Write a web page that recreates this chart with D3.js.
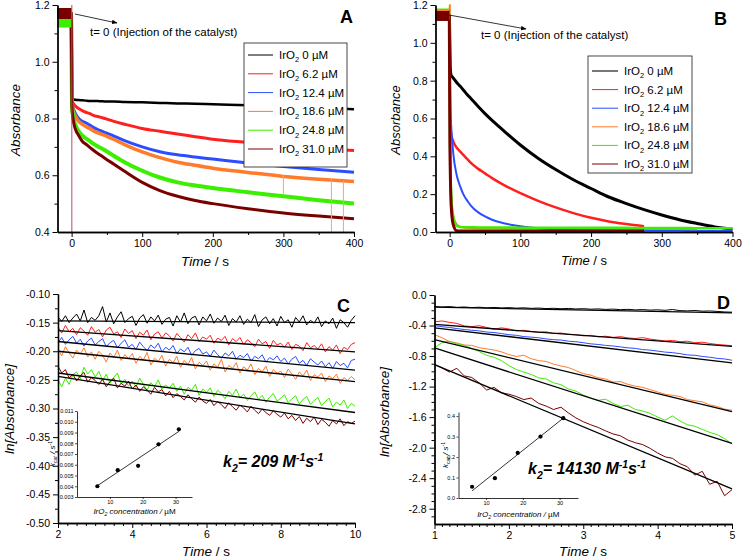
<!DOCTYPE html>
<html>
<head>
<meta charset="utf-8">
<script src="https://cdn.jsdelivr.net/npm/d3@7"></script>
<style>
body { margin: 0; background: #fff; }
</style>
</head>
<body>
<svg id="fig" width="742" height="558"></svg>
<script>
// series (IrO2 concentration, uM) and colours
var concLabels = ["0", "6.2", "12.4", "18.6", "24.8", "31.0"];
var colors = ["#000000", "#ff1f1f", "#2b4dff", "#ff7b2b", "#3cee00", "#7a0000"];

// ---- panel A : absorbance vs time (slow)
var timeA = [-20, -0.5, 0.5, 2, 5, 10, 15, 20, 25, 30, 40, 50, 60, 75, 100, 125, 150, 175, 200, 250, 300, 350, 400];
var aBlack  = [1.17, 1.17, 0.87, 0.868, 0.866, 0.865, 0.864, 0.863, 0.862, 0.862, 0.861, 0.86, 0.86, 0.858, 0.857, 0.855, 0.853, 0.852, 0.85, 0.847, 0.843, 0.838, 0.833];
var aRed    = [1.17, 1.17, 0.87, 0.855, 0.845, 0.835, 0.828, 0.822, 0.818, 0.812, 0.805, 0.798, 0.79, 0.78, 0.765, 0.755, 0.745, 0.736, 0.727, 0.715, 0.703, 0.695, 0.687];
var aBlue   = [1.17, 1.17, 0.86, 0.84, 0.82, 0.80, 0.79, 0.785, 0.778, 0.77, 0.758, 0.748, 0.738, 0.722, 0.70, 0.683, 0.672, 0.664, 0.657, 0.643, 0.631, 0.62, 0.611];
var aOrange = [1.17, 1.17, 0.86, 0.83, 0.81, 0.79, 0.78, 0.772, 0.766, 0.758, 0.747, 0.737, 0.726, 0.708, 0.682, 0.662, 0.646, 0.635, 0.625, 0.61, 0.596, 0.586, 0.578];
var aGreen  = [1.14, 1.14, 0.85, 0.81, 0.78, 0.755, 0.74, 0.73, 0.722, 0.712, 0.698, 0.684, 0.668, 0.646, 0.616, 0.592, 0.575, 0.564, 0.555, 0.54, 0.526, 0.512, 0.50];
var aMaroon = [1.17, 1.17, 0.84, 0.80, 0.765, 0.74, 0.72, 0.71, 0.70, 0.69, 0.672, 0.655, 0.639, 0.614, 0.575, 0.546, 0.526, 0.511, 0.50, 0.482, 0.467, 0.456, 0.447];
var spikeTA = [0.3, 300, 368, 385];
var spikeTopA = [1.2, 0.60, 0.585, 0.58];
var spikeBotA = [0.4, 0.535, 0.4, 0.4];

// ---- panel B : absorbance vs time (fast)
var timeB = [-20, -0.5, 0.3, 1, 2, 5, 10, 15, 20, 25, 30, 40, 50, 60, 75, 100, 125, 150, 175, 200, 225, 250, 275, 300, 325, 350, 375, 400];
var bBlack  = [1.147, 1.147, 1.0, 0.86, 0.83, 0.815, 0.79, 0.77, 0.748, 0.726, 0.706, 0.665, 0.626, 0.59, 0.54, 0.46, 0.39, 0.33, 0.276, 0.23, 0.185, 0.15, 0.118, 0.09, 0.065, 0.045, 0.027, 0.015];
var bRed    = [1.147, 1.147, 0.72, 0.58, 0.52, 0.48, 0.445, 0.425, 0.405, 0.385, 0.365, 0.335, 0.31, 0.285, 0.252, 0.205, 0.165, 0.13, 0.10, 0.075, 0.056, 0.042, 0.03, null, null, null, null, null];
var bBlue   = [1.147, 1.147, 0.9, 0.65, 0.57, 0.42, 0.30, 0.24, 0.195, 0.165, 0.14, 0.105, 0.082, 0.065, 0.048, 0.03, 0.02, 0.015, 0.012, 0.01, 0.009, 0.008, 0.007, 0.006, 0.006, 0.005, 0.005, 0.005];
var bOrange = [1.147, 1.147, 1.2, 0.3, 0.2, 0.09, 0.04, 0.028, 0.024, 0.022, 0.021, 0.02, 0.02, 0.02, 0.019, 0.019, 0.018, 0.018, 0.018, 0.017, 0.017, 0.017, 0.016, 0.016, 0.016, 0.015, null, null];
var bGreen  = [1.155, 1.155, 0.6, 0.35, 0.22, 0.08, 0.032, 0.026, 0.025, 0.025, 0.025, 0.024, 0.024, 0.024, 0.024, 0.023, 0.023, 0.023, 0.022, 0.022, 0.022, 0.022, 0.021, 0.021, 0.021, 0.02, 0.02, 0.02];
var bMaroon = [1.142, 1.142, 0.5, 0.3, 0.15, 0.04, 0.006, 0.005, 0.005, 0.005, 0.005, 0.005, 0.005, 0.005, 0.005, 0.005, 0.005, 0.005, 0.005, 0.005, 0.005, 0.005, 0.005, null, null, null, null, null];

// ---- panel C : ln[Absorbance], 2-10 s, sampled every 0.1 s
var tC = d3.range(81).map(i => 2 + i * 0.1);
var cBlack = [-0.140, -0.148, -0.138, -0.150, -0.142, -0.135, -0.147, -0.128, -0.150, -0.141,
  -0.146, -0.138, -0.122, -0.149, -0.133, -0.152, -0.140, -0.131, -0.150, -0.143,
  -0.139, -0.155, -0.142, -0.136, -0.151, -0.140, -0.147, -0.137, -0.153, -0.144,
  -0.141, -0.156, -0.138, -0.149, -0.133, -0.152, -0.142, -0.139, -0.154, -0.140,
  -0.147, -0.135, -0.151, -0.142, -0.148, -0.137, -0.155, -0.143, -0.149, -0.138,
  -0.153, -0.144, -0.150, -0.136, -0.157, -0.145, -0.140, -0.152, -0.143, -0.156,
  -0.139, -0.150, -0.145, -0.158, -0.141, -0.149, -0.138, -0.154, -0.146, -0.151,
  -0.140, -0.157, -0.147, -0.152, -0.142, -0.160, -0.145, -0.150, -0.158, -0.146, -0.138];
var cRed = [-0.158, -0.168, -0.155, -0.166, -0.160, -0.171, -0.159, -0.165, -0.172, -0.157,
  -0.167, -0.162, -0.175, -0.163, -0.158, -0.170, -0.166, -0.176, -0.161, -0.169,
  -0.164, -0.178, -0.167, -0.172, -0.163, -0.180, -0.170, -0.166, -0.177, -0.168,
  -0.173, -0.182, -0.169, -0.176, -0.184, -0.171, -0.178, -0.168, -0.183, -0.175,
  -0.179, -0.172, -0.186, -0.177, -0.181, -0.174, -0.189, -0.178, -0.183, -0.176,
  -0.188, -0.180, -0.185, -0.192, -0.179, -0.187, -0.183, -0.195, -0.181, -0.189,
  -0.186, -0.193, -0.184, -0.197, -0.188, -0.191, -0.199, -0.185, -0.194, -0.190,
  -0.196, -0.187, -0.201, -0.192, -0.198, -0.189, -0.204, -0.193, -0.197, -0.188, -0.185];
var cBlue = [-0.185, -0.176, -0.188, -0.180, -0.174, -0.186, -0.179, -0.191, -0.182, -0.177,
  -0.189, -0.183, -0.178, -0.192, -0.185, -0.181, -0.194, -0.186, -0.180, -0.193,
  -0.188, -0.197, -0.184, -0.192, -0.199, -0.189, -0.195, -0.186, -0.201, -0.193,
  -0.198, -0.190, -0.204, -0.196, -0.201, -0.193, -0.207, -0.199, -0.195, -0.205,
  -0.201, -0.209, -0.198, -0.206, -0.212, -0.203, -0.208, -0.200, -0.214, -0.207,
  -0.211, -0.204, -0.217, -0.209, -0.213, -0.206, -0.219, -0.211, -0.215, -0.208,
  -0.218, -0.212, -0.222, -0.214, -0.209, -0.221, -0.216, -0.225, -0.213, -0.219,
  -0.224, -0.217, -0.227, -0.220, -0.230, -0.218, -0.225, -0.221, -0.229, -0.216, -0.214];
var cOrange = [-0.196, -0.208, -0.192, -0.203, -0.212, -0.198, -0.205, -0.194, -0.210, -0.201,
  -0.214, -0.200, -0.207, -0.219, -0.203, -0.211, -0.198, -0.216, -0.206, -0.213,
  -0.204, -0.221, -0.209, -0.215, -0.202, -0.224, -0.212, -0.218, -0.207, -0.226,
  -0.214, -0.220, -0.209, -0.228, -0.216, -0.223, -0.211, -0.231, -0.219, -0.225,
  -0.217, -0.233, -0.222, -0.228, -0.214, -0.236, -0.225, -0.230, -0.220, -0.238,
  -0.227, -0.233, -0.222, -0.241, -0.230, -0.236, -0.226, -0.244, -0.232, -0.238,
  -0.235, -0.246, -0.231, -0.240, -0.249, -0.236, -0.243, -0.233, -0.251, -0.241,
  -0.245, -0.238, -0.253, -0.243, -0.248, -0.240, -0.256, -0.246, -0.251, -0.244, -0.250];
var cGreen = [-0.250, -0.262, -0.247, -0.258, -0.241, -0.236, -0.248, -0.228, -0.240, -0.232,
  -0.245, -0.235, -0.251, -0.240, -0.256, -0.246, -0.238, -0.257, -0.249, -0.261,
  -0.252, -0.263, -0.247, -0.258, -0.268, -0.255, -0.262, -0.250, -0.266, -0.259,
  -0.264, -0.256, -0.270, -0.261, -0.275, -0.263, -0.268, -0.258, -0.277, -0.266,
  -0.272, -0.264, -0.279, -0.268, -0.274, -0.283, -0.270, -0.277, -0.266, -0.281,
  -0.275, -0.286, -0.278, -0.271, -0.284, -0.277, -0.289, -0.280, -0.274, -0.287,
  -0.282, -0.276, -0.290, -0.283, -0.278, -0.292, -0.284, -0.279, -0.293, -0.286,
  -0.281, -0.295, -0.288, -0.282, -0.297, -0.289, -0.294, -0.285, -0.300, -0.291, -0.296];
var cMaroon = [-0.226, -0.238, -0.232, -0.247, -0.240, -0.252, -0.243, -0.237, -0.254, -0.246,
  -0.251, -0.258, -0.249, -0.262, -0.253, -0.247, -0.264, -0.256, -0.261, -0.252,
  -0.266, -0.259, -0.270, -0.262, -0.268, -0.275, -0.263, -0.271, -0.267, -0.278,
  -0.270, -0.281, -0.274, -0.279, -0.285, -0.276, -0.283, -0.289, -0.280, -0.287,
  -0.291, -0.284, -0.295, -0.288, -0.293, -0.300, -0.290, -0.297, -0.303, -0.294,
  -0.299, -0.306, -0.296, -0.303, -0.309, -0.301, -0.307, -0.312, -0.304, -0.310,
  -0.315, -0.308, -0.318, -0.312, -0.321, -0.314, -0.326, -0.317, -0.323, -0.315,
  -0.328, -0.319, -0.324, -0.331, -0.321, -0.327, -0.318, -0.330, -0.323, -0.326, -0.322];
// linear fits: value at 2 s and at 10 s
var fitC2 = [-0.147, -0.164, -0.183, -0.200, -0.238, -0.244];
var fitC10 = [-0.150, -0.201, -0.233, -0.253, -0.307, -0.327];

// ---- panel D : ln[Absorbance], 1-5 s, sampled every 0.1 s
var tD = d3.range(41).map(i => 1 + i * 0.1);
var dBlack = [-0.150, -0.158, -0.152, -0.162, -0.157, -0.165, -0.160, -0.168, -0.163, -0.170,
  -0.166, -0.172, -0.168, -0.175, -0.171, -0.178, -0.174, -0.180, -0.176, -0.183,
  -0.179, -0.186, -0.182, -0.189, -0.185, -0.192, -0.188, -0.195, -0.191, -0.198,
  -0.194, -0.201, -0.190, -0.205, -0.208, -0.203, -0.212, -0.209, -0.215, -0.222, -0.225];
var dRed = [-0.352, -0.340, -0.358, -0.372, -0.405, -0.415, -0.402, -0.425, -0.448, -0.430,
  -0.445, -0.470, -0.462, -0.478, -0.490, -0.482, -0.505, -0.498, -0.515, -0.520,
  -0.535, -0.528, -0.548, -0.540, -0.556, -0.545, -0.562, -0.570, -0.558, -0.578,
  -0.590, -0.602, -0.595, -0.612, -0.605, -0.625, -0.618, -0.635, -0.648, -0.655, -0.665];
var dBlue = [-0.402, -0.415, -0.425, -0.440, -0.452, -0.462, -0.470, -0.485, -0.492, -0.505,
  -0.520, -0.528, -0.545, -0.552, -0.560, -0.575, -0.585, -0.590, -0.605, -0.612,
  -0.625, -0.640, -0.648, -0.660, -0.668, -0.680, -0.692, -0.700, -0.715, -0.722,
  -0.735, -0.748, -0.755, -0.768, -0.785, -0.790, -0.805, -0.815, -0.830, -0.838, -0.855];
var dOrange = [-0.520, -0.560, -0.610, -0.628, -0.655, -0.660, -0.690, -0.705, -0.720, -0.745,
  -0.780, -0.805, -0.790, -0.835, -0.860, -0.870, -0.905, -0.930, -0.950, -0.990,
  -1.030, -1.050, -1.085, -1.100, -1.140, -1.135, -1.170, -1.195, -1.210, -1.240,
  -1.270, -1.300, -1.315, -1.330, -1.370, -1.385, -1.400, -1.440, -1.460, -1.495, -1.510];
var dGreen = [-0.690, -0.625, -0.605, -0.640, -0.660, -0.700, -0.740, -0.790, -0.815, -0.860,
  -0.925, -0.975, -1.010, -1.040, -1.085, -1.100, -1.150, -1.175, -1.230, -1.260,
  -1.310, -1.350, -1.380, -1.365, -1.420, -1.460, -1.445, -1.500, -1.520, -1.550,
  -1.600, -1.640, -1.585, -1.650, -1.700, -1.720, -1.760, -1.800, -1.830, -1.880, -1.950];
var dMaroon = [-0.910, -0.955, -1.010, -0.960, -1.060, -1.080, -1.150, -1.245, -1.210, -1.280,
  -1.300, -1.330, -1.370, -1.350, -1.420, -1.455, -1.500, -1.470, -1.545, -1.610,
  -1.660, -1.700, -1.735, -1.780, -1.820, -1.845, -1.900, -1.935, -1.960, -2.010,
  -2.070, -2.120, -2.140, -2.210, -2.250, -2.360, -2.310, -2.480, -2.440, -2.630, -2.550];
// linear fits: value at 1 s and at 5 s
var fitD1 = [-0.160, -0.386, -0.430, -0.584, -0.694, -0.913];
var fitD5 = [-0.235, -0.672, -0.890, -1.528, -1.945, -2.540];

// ---- insets: kcat vs IrO2 concentration
var concIn = [6.2, 12.4, 18.6, 24.8, 31.0];
var kcatC = [0.0040, 0.0055, 0.0059, 0.0079, 0.0093];
var kcatD = [0.055, 0.097, 0.22, 0.30, 0.39];
var kFitX = [6.2, 31.0];
var kFitC = [0.00405, 0.0091];
var kFitD = [0.035, 0.39];

var FONT = "'Liberation Sans', Arial, Helvetica, sans-serif";
var svg = d3.select("#fig");

// scales
var xA = d3.scaleLinear().domain([-20, 400]).range([57.5, 354]);
var yA = d3.scaleLinear().domain([0.4, 1.2]).range([232, 5]);
var xB = d3.scaleLinear().domain([-20, 400]).range([435.5, 732.5]);
var yB = d3.scaleLinear().domain([0, 1.2]).range([232, 5]);
var xC = d3.scaleLinear().domain([2, 10]).range([58, 355]);
var yC = d3.scaleLinear().domain([-0.5, -0.1]).range([523, 294]);
var xD = d3.scaleLinear().domain([1, 5]).range([434.5, 732]);
var yD = d3.scaleLinear().domain([-3, 0]).range([524, 295]);

function drawAxes(x, y, o) {
    var y0 = y.range()[0], x0 = x.range()[0];
    var sw = o.sw || 1.3;
    var gs = [];
    if (o.xMinor) gs.push(svg.append("g").attr("transform", `translate(0,${y0})`)
        .call(d3.axisBottom(x).tickValues(o.xMinor).tickSize(o.minor).tickSizeOuter(0).tickFormat("")));
    gs.push(svg.append("g").attr("transform", `translate(0,${y0})`)
        .call(d3.axisBottom(x).tickValues(o.xMajor).tickSize(o.major).tickSizeOuter(0).tickPadding(o.pad).tickFormat(o.xFmt)));
    if (o.yMinor) gs.push(svg.append("g").attr("transform", `translate(${x0},0)`)
        .call(d3.axisLeft(y).tickValues(o.yMinor).tickSize(o.minor).tickSizeOuter(0).tickFormat("")));
    gs.push(svg.append("g").attr("transform", `translate(${x0},0)`)
        .call(d3.axisLeft(y).tickValues(o.yMajor).tickSize(o.major).tickSizeOuter(0).tickPadding(o.pad).tickFormat(o.yFmt)));
    gs.forEach(function(g) {
        g.attr("font-family", FONT).attr("font-size", o.fs);
        g.select(".domain").attr("stroke-width", sw);
        g.selectAll(".tick line").attr("stroke-width", o.tw || 1);
    });
}

function trace(x, y, t, v, color, width, curve) {
    var line = d3.line()
        .defined(d => d[1] != null)
        .x(d => x(d[0]))
        .y(d => y(d[1]));
    if (curve) line.curve(curve);
    svg.append("path")
        .datum(t.map((tt, i) => [tt, v[i]]))
        .attr("d", line)
        .attr("fill", "none")
        .attr("stroke", color)
        .attr("stroke-width", width)
        .attr("stroke-linejoin", "round");
}

function label(x, y, parts, size, anchor, rot) {
    var t = svg.append("text")
        .attr("font-family", FONT)
        .attr("font-size", size)
        .attr("text-anchor", anchor || "start");
    if (rot) t.attr("transform", `translate(${x},${y}) rotate(-90)`);
    else t.attr("x", x).attr("y", y);
    parts.forEach(function(p) {
        var s = t.append("tspan").text(p.s);
        if (p.i) s.attr("font-style", "italic");
        if (p.b) s.attr("font-weight", "bold");
        if (p.sub) s.attr("font-size", size * 0.65).attr("dy", size * 0.3);
        if (p.sup) s.attr("font-size", size * 0.65).attr("dy", -size * 0.4);
        if (p.back) s.attr("dy", p.back);
    });
    return t;
}

// arrow head marker
svg.append("defs").append("marker")
    .attr("id", "arr").attr("viewBox", "0 0 10 10").attr("refX", 9).attr("refY", 5)
    .attr("markerWidth", 7).attr("markerHeight", 7).attr("orient", "auto")
    .append("path").attr("d", "M0,1 L10,5 L0,9 Z").attr("fill", "#000");

var seriesA = [aBlack, aRed, aBlue, aOrange, aGreen, aMaroon];
var seriesB = [bBlack, bRed, bBlue, bOrange, bGreen, bMaroon];
var seriesC = [cBlack, cRed, cBlue, cOrange, cGreen, cMaroon];
var seriesD = [dBlack, dRed, dBlue, dOrange, dGreen, dMaroon];

// ===================== panel A
var wA = [2.5, 3, 3, 3.5, 4, 3];
seriesA.forEach((v, i) => trace(xA, yA, timeA, v, colors[i], wA[i], d3.curveMonotoneX));
// pre-injection noise band
[4, 0, 1, 2, 3, 5].forEach(i => trace(xA, yA, timeA.slice(0, 2), seriesA[i].slice(0, 2), colors[i], 11));
svg.selectAll(".spikeA").data(spikeTA).enter().append("line")
    .attr("x1", d => xA(d)).attr("x2", d => xA(d))
    .attr("y1", (d, i) => yA(spikeTopA[i])).attr("y2", (d, i) => yA(spikeBotA[i]))
    .attr("stroke", (d, i) => i == 0 ? "#b05060" : "#ffa070").attr("stroke-width", 1);

drawAxes(xA, yA, {
    xMajor: [0, 100, 200, 300, 400], xMinor: [50, 150, 250, 350],
    yMajor: [0.4, 0.6, 0.8, 1.0, 1.2], yMinor: [0.5, 0.7, 0.9, 1.1],
    xFmt: d => d, yFmt: d => d.toFixed(1), fs: 10.5, major: 5, minor: 3, pad: 3
});

// ===================== panel B
var wB = [3, 2.5, 2, 2, 2.5, 3];
seriesB.forEach((v, i) => trace(xB, yB, timeB, v, colors[i], wB[i], d3.curveMonotoneX));
[4, 0, 1, 2, 3, 5].forEach(i => trace(xB, yB, timeB.slice(0, 2), seriesB[i].slice(0, 2), colors[i], 10));

drawAxes(xB, yB, {
    xMajor: [0, 100, 200, 300, 400], xMinor: [50, 150, 250, 350],
    yMajor: [0, 0.2, 0.4, 0.6, 0.8, 1.0, 1.2], yMinor: [0.1, 0.3, 0.5, 0.7, 0.9, 1.1],
    xFmt: d => d, yFmt: d => d.toFixed(1), fs: 10.5, major: 5, minor: 3, pad: 3
});

// ===================== panel C
seriesC.forEach((v, i) => trace(xC, yC, tC, v, colors[i], 1));
fitC2.forEach((v, i) => trace(xC, yC, [2, 10], [v, fitC10[i]], "#000", 1.3));
drawAxes(xC, yC, {
    xMajor: [2, 4, 6, 8, 10],
    xMinor: d3.range(2.25, 10, 0.25).filter(d => Math.abs(d / 2 - Math.round(d / 2)) > 0.01),
    yMajor: d3.range(10, 51, 5).map(d => -d / 100),
    yMinor: d3.range(125, 500, 50).map(d => -d / 1000),
    xFmt: d => d, yFmt: d => d.toFixed(2), fs: 10.5, major: 5, minor: 3, pad: 3
});

// ===================== panel D
seriesD.forEach((v, i) => trace(xD, yD, tD, v, colors[i], 1));
fitD1.forEach((v, i) => trace(xD, yD, [1, 5], [v, fitD5[i]], "#000", 1.3));
drawAxes(xD, yD, {
    xMajor: [1, 2, 3, 4, 5],
    xMinor: d3.range(11, 50).filter(d => d % 10 != 0).map(d => d / 10),
    yMajor: d3.range(0, 29, 4).map(d => d == 0 ? 0 : -d / 10),
    yMinor: d3.range(1, 30).filter(d => d % 4 != 0).map(d => -d / 10),
    xFmt: d => d, yFmt: d => d.toFixed(1), fs: 10.5, major: 5, minor: 3, pad: 3
});

// ===================== insets
function inset(x, y, yTicks, yFmt, k, kFit, kLabX, titleY) {
    drawAxes(x, y, {
        xMajor: [10, 20, 30], yMajor: yTicks,
        xFmt: d => d, yFmt: yFmt, fs: 5.5, major: 2, pad: 1.5, sw: 0.8, tw: 0.7
    });
    trace(x, y, kFitX, kFit, "#000", 0.8);
    svg.append("g").selectAll("circle").data(concIn).enter().append("circle")
        .attr("cx", d => x(d)).attr("cy", (d, i) => y(k[i])).attr("r", 2.1).attr("fill", "#000");
    label(kLabX, (y.range()[0] + y.range()[1]) / 2,
        [{ s: "k", i: 1 }, { s: "cat", i: 1, sub: 1 }, { s: " / s", i: 1, back: -2.4 }, { s: "-1", sup: 1 }], 8, "middle", true);
    label((x.range()[0] + x.range()[1]) / 2, titleY,
        [{ s: "IrO", i: 1 }, { s: "2", i: 1, sub: 1 }, { s: " concentration / ", i: 1, back: -2.4 }, { s: "\u00b5M" }], 8, "middle");
}
var xCi = d3.scaleLinear().domain([0, 35]).range([77, 192]);
var yCi = d3.scaleLinear().domain([0.003, 0.011]).range([497, 411]);
inset(xCi, yCi, d3.range(3, 12).map(d => d / 1000), d => d.toFixed(3), kcatC, kFitC, 55, 514);
var xDi = d3.scaleLinear().domain([2.5, 35]).range([458.5, 578]);
var yDi = d3.scaleLinear().domain([0, 0.42]).range([498, 412]);
inset(xDi, yDi, [0, 0.1, 0.2, 0.3, 0.4], d => d.toFixed(1), kcatD, kFitD, 448, 517);

// ===================== legends
function legend(x0, y0, w, h, rowY, step, sx0, sx1, tx, sampleW) {
    svg.append("rect").attr("x", x0).attr("y", y0).attr("width", w).attr("height", h)
        .attr("fill", "#fff").attr("stroke", "#333").attr("stroke-width", 0.9);
    concLabels.forEach(function(c, i) {
        var yy = rowY + i * step;
        svg.append("line").attr("x1", sx0).attr("x2", sx1).attr("y1", yy).attr("y2", yy)
            .attr("stroke", i == 0 && sampleW[0] > 1.5 ? "#777" : colors[i]).attr("stroke-width", sampleW[i]);
        label(tx, yy + 4, [{ s: "IrO" }, { s: "2", sub: 1 }, { s: " " + c + " \u00b5M", back: -3.45 }], 11.5);
    });
}
legend(244, 43, 103, 124, 55, 18.8, 248, 273, 279, [1, 1, 1, 1, 1, 1]);
legend(588, 56, 104, 117, 71, 18.6, 592, 618, 624, [2, 1, 1, 1, 1, 1]);

// ===================== annotations
svg.append("line").attr("x1", 75).attr("y1", 14).attr("x2", 117).attr("y2", 23)
    .attr("stroke", "#000").attr("stroke-width", 0.8).attr("marker-end", "url(#arr)");
label(90, 36, [{ s: "t= 0 (Injection of the catalyst)" }], 11.5);
svg.append("line").attr("x1", 449).attr("y1", 15).attr("x2", 526).attr("y2", 29)
    .attr("stroke", "#000").attr("stroke-width", 0.8).attr("marker-end", "url(#arr)");
label(481, 39, [{ s: "t= 0 (Injection of the catalyst)" }], 11.5);

// panel letters
label(340, 23, [{ s: "A", b: 1 }], 18);
label(714, 25, [{ s: "B", b: 1 }], 18);
label(337, 312, [{ s: "C", b: 1 }], 18);
label(717, 309, [{ s: "D", b: 1 }], 18);

// rate constants
label(223, 467, [{ s: "k", b: 1, i: 1 }, { s: "2", b: 1, i: 1, sub: 1 }, { s: "= 209 M", b: 1, i: 1, back: -4.8 },
    { s: "-1", b: 1, i: 1, sup: 1 }, { s: "s", b: 1, i: 1, back: 6.4 }, { s: "-1", b: 1, i: 1, sup: 1 }], 16);
label(528, 474, [{ s: "k", b: 1, i: 1 }, { s: "2", b: 1, i: 1, sub: 1 }, { s: "= 14130 M", b: 1, i: 1, back: -4.8 },
    { s: "-1", b: 1, i: 1, sup: 1 }, { s: "s", b: 1, i: 1, back: 6.4 }, { s: "-1", b: 1, i: 1, sup: 1 }], 16);

// axis titles
label(20, 120, [{ s: "Absorbance", i: 1 }], 13.5, "middle", true);
label(400, 120, [{ s: "Absorbance", i: 1 }], 13, "middle", true);
label(14, 409, [{ s: "ln[Absorbance]", i: 1 }], 13.5, "middle", true);
label(389, 412, [{ s: "ln[Absorbance]", i: 1 }], 13.5, "middle", true);
label(205, 266, [{ s: "Time", i: 1 }, { s: " / s" }], 13.5, "middle");
label(584, 265, [{ s: "Time", i: 1 }, { s: " / s" }], 13, "middle");
label(206, 556, [{ s: "Time", i: 1 }, { s: " / s" }], 13.5, "middle");
label(583, 556, [{ s: "Time", i: 1 }, { s: " / s" }], 13.5, "middle");
</script>
</body>
</html>
